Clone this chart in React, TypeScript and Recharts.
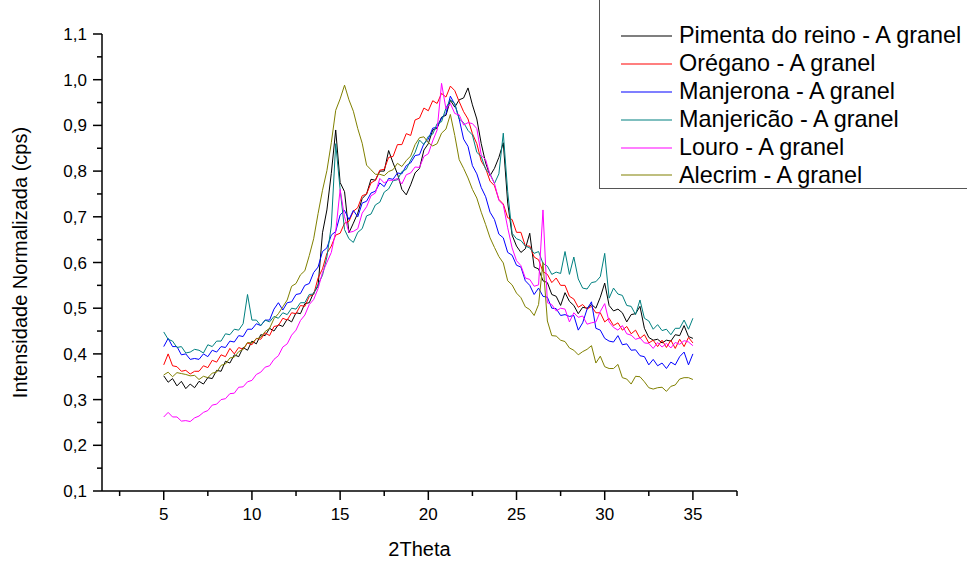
import { Legend, Line, LineChart, XAxis, YAxis } from 'recharts'

// 2θ sampling grid, 5° .. 35° every 0.25°
const twoTheta = Array.from({ length: 121 }, (_, i) => 5 + i * 0.25)

const pimenta = [
  0.352, 0.338, 0.346, 0.330, 0.340, 0.324, 0.334, 0.326,
  0.340, 0.334, 0.348, 0.346, 0.364, 0.362, 0.384, 0.380,
  0.398, 0.394, 0.414, 0.408, 0.428, 0.422, 0.442, 0.440,
  0.456, 0.450, 0.464, 0.460, 0.476, 0.470, 0.490, 0.488,
  0.510, 0.512, 0.534, 0.548, 0.665, 0.715, 0.795, 0.890,
  0.775, 0.755, 0.665, 0.686, 0.708, 0.740, 0.750, 0.782,
  0.780, 0.800, 0.800, 0.845, 0.818, 0.794, 0.760, 0.748,
  0.770, 0.796, 0.806, 0.846, 0.860, 0.890, 0.894, 0.918,
  0.922, 0.955, 0.940, 0.956, 0.960, 0.982, 0.945, 0.914,
  0.860, 0.818, 0.790, 0.806, 0.830, 0.862, 0.730, 0.660,
  0.636, 0.622, 0.630, 0.664, 0.590, 0.586, 0.560, 0.556,
  0.530, 0.526, 0.506, 0.534, 0.515, 0.506, 0.488, 0.502,
  0.500, 0.508, 0.500, 0.524, 0.555, 0.506, 0.494, 0.498,
  0.490, 0.470, 0.486, 0.488, 0.504, 0.456, 0.436, 0.430,
  0.432, 0.424, 0.430, 0.428, 0.442, 0.440, 0.462, 0.438,
  0.434,
]

const oregano = [
  0.376, 0.400, 0.374, 0.372, 0.362, 0.364, 0.356, 0.362,
  0.362, 0.374, 0.370, 0.386, 0.382, 0.398, 0.394, 0.412,
  0.400, 0.414, 0.410, 0.424, 0.420, 0.434, 0.432, 0.446,
  0.440, 0.460, 0.462, 0.478, 0.474, 0.490, 0.488, 0.506,
  0.504, 0.526, 0.530, 0.566, 0.586, 0.620, 0.636, 0.660,
  0.664, 0.686, 0.690, 0.712, 0.720, 0.746, 0.750, 0.774,
  0.780, 0.802, 0.804, 0.830, 0.832, 0.858, 0.858, 0.882,
  0.878, 0.912, 0.916, 0.938, 0.932, 0.954, 0.948, 0.970,
  0.962, 0.986, 0.976, 0.952, 0.930, 0.914, 0.882, 0.860,
  0.822, 0.806, 0.778, 0.768, 0.738, 0.728, 0.698, 0.694,
  0.666, 0.666, 0.636, 0.636, 0.612, 0.606, 0.580, 0.574,
  0.556, 0.566, 0.550, 0.550, 0.526, 0.520, 0.502, 0.508,
  0.498, 0.504, 0.490, 0.490, 0.470, 0.478, 0.462, 0.468,
  0.452, 0.460, 0.444, 0.452, 0.434, 0.442, 0.424, 0.430,
  0.416, 0.430, 0.414, 0.430, 0.412, 0.432, 0.416, 0.436,
  0.424,
]

const manjerona = [
  0.416, 0.434, 0.416, 0.416, 0.398, 0.400, 0.388, 0.390,
  0.388, 0.400, 0.394, 0.408, 0.404, 0.416, 0.414, 0.428,
  0.426, 0.440, 0.438, 0.454, 0.454, 0.466, 0.462, 0.474,
  0.474, 0.498, 0.512, 0.496, 0.512, 0.514, 0.530, 0.532,
  0.550, 0.554, 0.578, 0.590, 0.624, 0.632, 0.660, 0.668,
  0.704, 0.714, 0.694, 0.714, 0.700, 0.730, 0.734, 0.752,
  0.756, 0.774, 0.766, 0.784, 0.782, 0.796, 0.794, 0.812,
  0.818, 0.834, 0.836, 0.860, 0.870, 0.894, 0.896, 0.916,
  0.926, 0.964, 0.946, 0.914, 0.870, 0.854, 0.812, 0.794,
  0.764, 0.744, 0.710, 0.694, 0.662, 0.654, 0.622, 0.616,
  0.594, 0.590, 0.560, 0.550, 0.530, 0.544, 0.526, 0.524,
  0.500, 0.499, 0.484, 0.486, 0.482, 0.484, 0.452, 0.468,
  0.498, 0.514, 0.456, 0.452, 0.434, 0.428, 0.426, 0.440,
  0.420, 0.422, 0.408, 0.409, 0.396, 0.394, 0.376, 0.388,
  0.374, 0.380, 0.368, 0.382, 0.376, 0.394, 0.404, 0.376,
  0.400,
]

const manjericao = [
  0.448, 0.432, 0.428, 0.414, 0.416, 0.402, 0.404, 0.410,
  0.408, 0.402, 0.420, 0.416, 0.428, 0.428, 0.444, 0.442,
  0.454, 0.452, 0.466, 0.530, 0.474, 0.474, 0.462, 0.474,
  0.470, 0.482, 0.478, 0.490, 0.486, 0.500, 0.498, 0.512,
  0.512, 0.530, 0.531, 0.552, 0.572, 0.612, 0.680, 0.860,
  0.760, 0.672, 0.652, 0.644, 0.666, 0.674, 0.702, 0.706,
  0.726, 0.732, 0.754, 0.761, 0.779, 0.781, 0.799, 0.804,
  0.824, 0.841, 0.868, 0.858, 0.876, 0.881, 0.904, 0.908,
  0.938, 0.956, 0.948, 0.914, 0.906, 0.889, 0.879, 0.841,
  0.832, 0.804, 0.794, 0.773, 0.794, 0.883, 0.755, 0.664,
  0.652, 0.648, 0.636, 0.632, 0.620, 0.624, 0.598, 0.592,
  0.574, 0.579, 0.576, 0.624, 0.574, 0.612, 0.564, 0.544,
  0.542, 0.556, 0.558, 0.569, 0.620, 0.522, 0.544, 0.531,
  0.528, 0.506, 0.504, 0.486, 0.518, 0.478, 0.472, 0.454,
  0.464, 0.451, 0.454, 0.442, 0.456, 0.456, 0.474, 0.454,
  0.478,
]

const louro = [
  0.262, 0.272, 0.262, 0.262, 0.253, 0.254, 0.252, 0.260,
  0.264, 0.272, 0.276, 0.288, 0.290, 0.300, 0.302, 0.313,
  0.314, 0.327, 0.328, 0.339, 0.342, 0.355, 0.360, 0.371,
  0.374, 0.388, 0.396, 0.415, 0.422, 0.441, 0.452, 0.473,
  0.485, 0.508, 0.519, 0.543, 0.578, 0.600, 0.622, 0.668,
  0.760, 0.700, 0.666, 0.668, 0.674, 0.708, 0.722, 0.746,
  0.752, 0.784, 0.774, 0.780, 0.780, 0.784, 0.772, 0.792,
  0.796, 0.809, 0.808, 0.832, 0.838, 0.866, 0.890, 0.992,
  0.936, 0.948, 0.926, 0.923, 0.901, 0.906, 0.904, 0.893,
  0.835, 0.825, 0.792, 0.773, 0.736, 0.726, 0.676, 0.632,
  0.604, 0.593, 0.566, 0.563, 0.548, 0.551, 0.715, 0.512,
  0.508, 0.494, 0.500, 0.498, 0.470, 0.490, 0.480, 0.483,
  0.465, 0.468, 0.470, 0.493, 0.510, 0.470, 0.458, 0.452,
  0.462, 0.444, 0.441, 0.432, 0.435, 0.424, 0.423, 0.412,
  0.425, 0.415, 0.423, 0.413, 0.425, 0.421, 0.429, 0.426,
  0.418,
]

const alecrim = [
  0.354, 0.360, 0.350, 0.359, 0.357, 0.355, 0.352, 0.353,
  0.344, 0.351, 0.348, 0.358, 0.360, 0.375, 0.378, 0.391,
  0.393, 0.405, 0.410, 0.425, 0.424, 0.433, 0.436, 0.449,
  0.456, 0.477, 0.488, 0.503, 0.518, 0.548, 0.554, 0.573,
  0.582, 0.615, 0.652, 0.707, 0.758, 0.801, 0.862, 0.933,
  0.958, 0.988, 0.956, 0.931, 0.893, 0.861, 0.813, 0.803,
  0.793, 0.793, 0.790, 0.799, 0.803, 0.817, 0.810, 0.823,
  0.833, 0.858, 0.873, 0.875, 0.862, 0.855, 0.860, 0.883,
  0.892, 0.924, 0.878, 0.825, 0.806, 0.785, 0.760, 0.741,
  0.710, 0.683, 0.654, 0.633, 0.613, 0.599, 0.560, 0.551,
  0.533, 0.523, 0.503, 0.497, 0.484, 0.508, 0.600, 0.472,
  0.440, 0.439, 0.430, 0.427, 0.413, 0.408, 0.398, 0.405,
  0.410, 0.418, 0.380, 0.395, 0.372, 0.368, 0.368, 0.377,
  0.348, 0.345, 0.334, 0.351, 0.350, 0.339, 0.326, 0.323,
  0.326, 0.327, 0.318, 0.329, 0.332, 0.345, 0.348, 0.348,
  0.344,
]

const series = [
  { key: 'pimenta', name: 'Pimenta do reino - A granel', color: '#000000', values: pimenta },
  { key: 'oregano', name: 'Orégano - A granel', color: '#ff0000', values: oregano },
  { key: 'manjerona', name: 'Manjerona - A granel', color: '#0000ff', values: manjerona },
  { key: 'manjericao', name: 'Manjericão - A granel', color: '#008080', values: manjericao },
  { key: 'louro', name: 'Louro - A granel', color: '#ff00ff', values: louro },
  { key: 'alecrim', name: 'Alecrim - A granel', color: '#808000', values: alecrim },
]

const xTicks = [2.5, 5, 7.5, 10, 12.5, 15, 17.5, 20, 22.5, 25, 27.5, 30, 32.5, 35, 37.5]
const yTicks = [
  0.1, 0.15, 0.2, 0.25, 0.3, 0.35, 0.4, 0.45, 0.5, 0.55, 0.6,
  0.65, 0.7, 0.75, 0.8, 0.85, 0.9, 0.95, 1.0, 1.05, 1.1,
]

const data = twoTheta.map((x, i) => {
  const row: Record<string, number> = { x }
  series.forEach((s) => {
    row[s.key] = s.values[i]
  })
  return row
})

const FONT = '"Liberation Sans", Arial, sans-serif'

function XTick({ x, y, payload }: any) {
  const v = payload.value as number
  const major = v % 5 === 0
  return (
    <g>
      <line x1={x} x2={x} y1={y} y2={y + (major ? 9 : 5)} stroke="#000" strokeWidth={1.5} />
      {major && (
        <text x={x} y={y + 29} textAnchor="middle" fontSize={17} fontFamily={FONT} fill="#000">
          {v}
        </text>
      )}
    </g>
  )
}

function YTick({ x, y, payload }: any) {
  const v = payload.value as number
  const major = Math.round(v * 100) % 10 === 0
  return (
    <g>
      <line x1={x - (major ? 9 : 5)} x2={x} y1={y} y2={y} stroke="#000" strokeWidth={1.5} />
      {major && (
        <text x={x - 15} y={y + 6} textAnchor="end" fontSize={17} fontFamily={FONT} fill="#000">
          {v.toFixed(1).replace('.', ',')}
        </text>
      )}
    </g>
  )
}

// legend drawn from our own series list so order and colours stay as in the figure
function LegendBox() {
  return (
    <div
      style={{
        width: 380,
        height: 191,
        border: '1.5px solid #555',
        boxSizing: 'border-box',
        background: '#fff',
        paddingTop: 23,
        fontFamily: FONT,
      }}
    >
      {series.map((s) => (
        <div key={s.key} style={{ display: 'flex', alignItems: 'center', height: 27.9 }}>
          <svg width={51} height={4} style={{ marginLeft: 21, display: 'block' }}>
            <line x1={0} x2={51} y1={2} y2={2} stroke={s.color} strokeWidth={1.2} />
          </svg>
          <span style={{ marginLeft: 7, fontSize: 23.4, color: '#000', lineHeight: '27px' }}>{s.name}</span>
        </div>
      ))}
    </div>
  )
}

export default function App() {
  return (
    <div style={{ position: 'absolute', left: 0, top: 0, width: 967, height: 563, background: '#fff', overflow: 'hidden' }}>
      <LineChart width={967} height={563} data={data} margin={{ top: 34, right: 230, bottom: 0, left: 0 }}>
        <XAxis
          dataKey="x"
          type="number"
          domain={[1.5, 37.5]}
          ticks={xTicks}
          interval={0}
          height={72}
          tickSize={0}
          tickMargin={0}
          tickLine={false}
          axisLine={{ stroke: '#000', strokeWidth: 1.5 }}
          tick={<XTick />}
          label={{ value: '2Theta', position: 'insideBottom', offset: 7, fontSize: 20, fontFamily: FONT, fill: '#000' }}
        />
        <YAxis
          type="number"
          domain={[0.1, 1.1]}
          ticks={yTicks}
          interval={0}
          width={102}
          tickSize={0}
          tickMargin={0}
          tickLine={false}
          axisLine={{ stroke: '#000', strokeWidth: 1.5 }}
          tick={<YTick />}
          label={{
            value: 'Intensidade Normalizada (cps)',
            angle: -90,
            position: 'insideLeft',
            offset: 20,
            fontSize: 20,
            fontFamily: FONT,
            fill: '#000',
            style: { textAnchor: 'middle' },
          }}
        />
        <Legend
          layout="horizontal"
          verticalAlign="middle"
          align="center"
          wrapperStyle={{ left: 599, top: -2, width: 380, height: 191 }}
          content={<LegendBox />}
        />
        {series.map((s) => (
          <Line
            key={s.key}
            type="linear"
            dataKey={s.key}
            name={s.name}
            stroke={s.color}
            strokeWidth={1}
            dot={false}
            isAnimationActive={false}
          />
        ))}
      </LineChart>
    </div>
  )
}
